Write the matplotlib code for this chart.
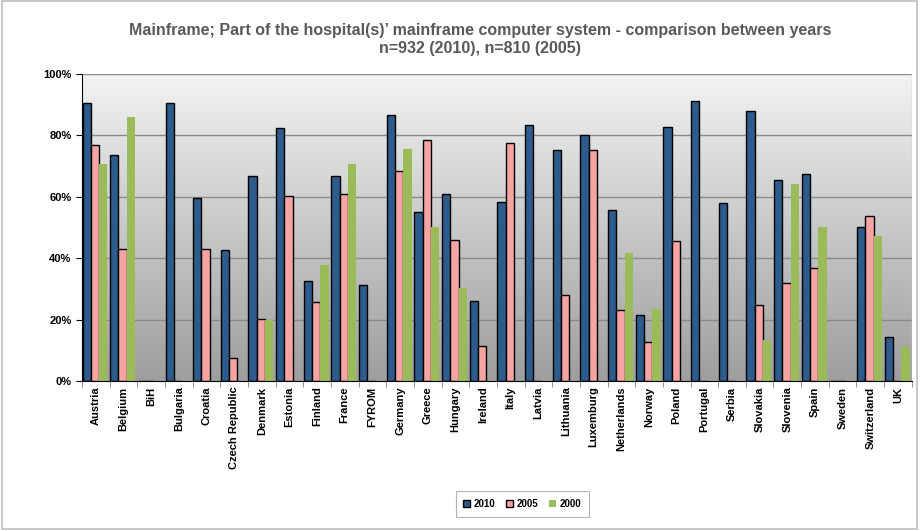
import numpy as np
import matplotlib
matplotlib.use("Agg")
from matplotlib import pyplot as plt
from matplotlib.patches import Rectangle
from matplotlib.colors import LinearSegmentedColormap

plt.rcParams['font.family'] = ['Liberation Sans', 'DejaVu Sans']

countries = ["Austria", "Belgium", "BiH", "Bulgaria", "Croatia", "Czech Republic",
             "Denmark", "Estonia", "Finland", "France", "FYROM", "Germany", "Greece",
             "Hungary", "Ireland", "Italy", "Latvia", "Lithuania", "Luxemburg",
             "Netherlands", "Norway", "Poland", "Portugal", "Serbia", "Slovakia",
             "Slovenia", "Spain", "Sweden", "Switzerland", "UK"]

# 0 = no bar
y2010 = [90.5, 73.6, 0, 90.5, 59.6, 42.7, 66.8, 82.4, 32.6, 66.8, 31.3, 86.6, 55.0,
         61.0, 26.0, 58.3, 83.4, 75.2, 80.1, 55.7, 21.5, 82.7, 91.2, 58.0, 87.9,
         65.5, 67.4, 0, 50.2, 14.3]
y2005 = [76.9, 43.0, 0, 0, 43.0, 7.5, 20.2, 60.3, 25.7, 61.0, 0, 68.4, 78.5,
         45.9, 11.4, 77.5, 0, 28.0, 75.2, 23.1, 12.7, 45.6, 0, 0, 24.8,
         31.9, 36.8, 0, 53.7, 0]
y2000 = [70.7, 86.0, 0, 0, 0, 0, 20.0, 0, 37.8, 70.7, 0, 75.6, 50.2,
         30.3, 0, 0, 0, 0, 0, 41.7, 23.5, 0, 0, 0, 13.4,
         64.2, 50.2, 0, 47.2, 11.0]

fig = plt.figure(figsize=(9.21, 5.31), dpi=100)
fig.patches.append(Rectangle((0.002, 0.004), 0.994, 0.994, transform=fig.transFigure,
                             fill=False, edgecolor='#bfbfbf', linewidth=1.2))
ax = fig.add_axes([0.089, 0.2825, 0.901, 0.578])

n = len(countries)
x = np.arange(n)
w = 0.3

# gradient background: light at top, grey at bottom
grad = np.linspace(1, 0, 256).reshape(-1, 1)
cmap = LinearSegmentedColormap.from_list('bg', ['#f2f3f3', '#9e9e9e'])
ax.imshow(grad, cmap=cmap, aspect='auto', extent=(-0.5, n - 0.5, 0, 100),
          origin='lower', zorder=0)

for g in [20, 40, 60, 80, 100]:
    ax.axhline(g, color='#8a8a8a', linewidth=1.0, zorder=1)
ax.axvline(n - 0.5, color='#c8c8c8', linewidth=1.0, zorder=1)

ax.bar(x - 0.33, y2010, w, color='#2d5b8b', edgecolor='black', linewidth=1.0, zorder=3, label='2010')
ax.bar(x - 0.03, y2005, w, color='#f6a3a3', edgecolor='black', linewidth=1.0, zorder=3, label='2005')
ax.bar(x + 0.27, y2000, w, color='#9bbb59', linewidth=0, zorder=3, label='2000')

ax.set_xlim(-0.5, n - 0.5)
ax.set_ylim(0, 100)
ax.set_yticks([0, 20, 40, 60, 80, 100])
ax.set_yticklabels([f"{v}%" for v in [0, 20, 40, 60, 80, 100]], fontsize=8, fontweight='bold')
ax.set_xticks(x)
ax.set_xticklabels(countries, rotation=90, fontsize=8, fontweight='bold')
ax.tick_params(axis='x', length=0, pad=4)
ax.tick_params(axis='y', length=4, direction='out', width=0.8)
ax.set_xticks(np.arange(-0.5, n, 1), minor=True)
ax.tick_params(axis='x', which='minor', length=4, color='#808080')

for s in ['top', 'right']:
    ax.spines[s].set_visible(False)
ax.spines['left'].set_color('black')
ax.spines['bottom'].set_color('black')
ax.spines['bottom'].set_zorder(4)

fig.text(0.521, 0.942, "Mainframe; Part of the hospital(s)\u2019 mainframe computer system - comparison between years",
         ha='center', va='center', fontsize=11.5, fontweight='bold', color='#595959')
fig.text(0.521, 0.909, "n=932 (2010), n=810 (2005)",
         ha='center', va='center', fontsize=11.5, fontweight='bold', color='#595959')

leg = ax.legend(loc='center', ncol=3, frameon=True, fancybox=False,
                prop={'weight': 'bold', 'size': 7},
                handlelength=0.7, handleheight=0.7, handletextpad=0.3, columnspacing=1.2,
                borderpad=0.8)
leg.set_bbox_to_anchor((0.5669, 0.0505), transform=fig.transFigure)
leg.get_frame().set_edgecolor('#a0a0a0')
leg.get_frame().set_linewidth(0.8)

plt.savefig("out.png", dpi=100)
